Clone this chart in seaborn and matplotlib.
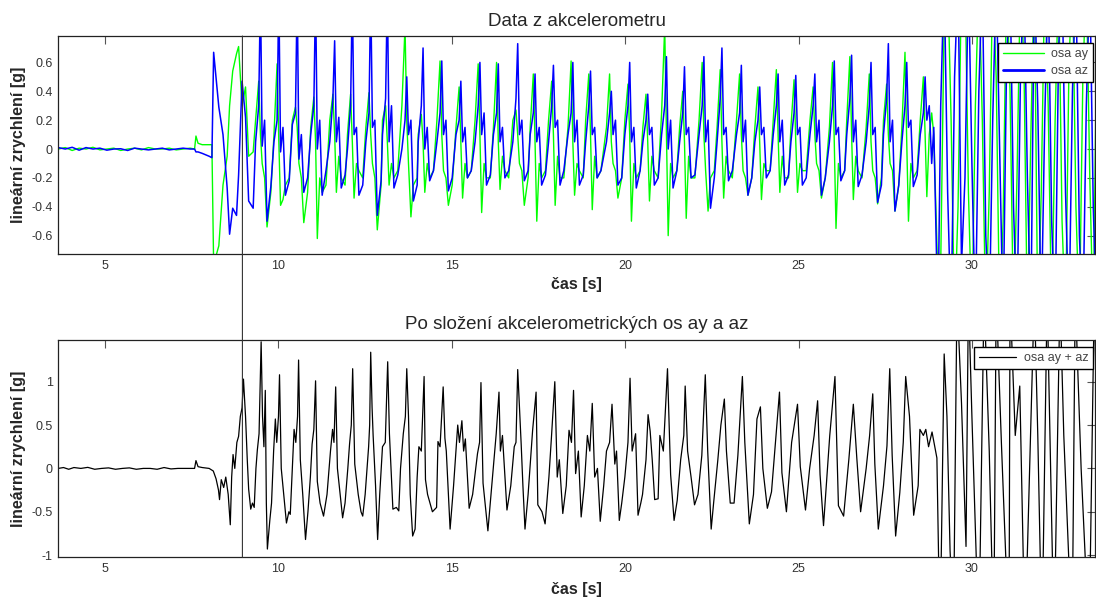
import matplotlib
matplotlib.use("Agg")
import matplotlib.pyplot as plt
import pandas as pd
import seaborn as sns
from matplotlib.patches import ConnectionPatch

# ---- data (time [s], value [g]) ----
# top panel: (time, osa ay, osa az)
accel_points = [
    # quiet start
    (3.65, 0.000, 0.010), (3.85, 0.010, 0.000), (4.05, -0.010, 0.012), (4.25, 0.006, -0.008),
    (4.45, 0.000, 0.010), (4.65, 0.012, 0.000), (4.85, -0.006, 0.006), (5.05, 0.000, -0.008),
    (5.25, 0.006, 0.000), (5.45, -0.010, 0.002), (5.65, 0.000, -0.010), (5.85, 0.006, 0.006),
    (6.05, -0.006, 0.000), (6.25, 0.010, -0.006), (6.45, 0.000, 0.000), (6.65, 0.000, 0.006),
    (6.85, 0.006, -0.006), (7.05, -0.006, 0.000), (7.25, 0.000, 0.006), (7.45, 0.006, 0.000),
    (7.58, 0.000, 0.000), (7.62, 0.090, -0.020), (7.68, 0.040, -0.020), (7.80, 0.030, -0.030),
    (8.00, 0.030, -0.050), (8.08, 0.030, -0.060),
    # start of walking
    (8.13, -0.80, 0.67), (8.28, -0.67, 0.29), (8.40, -0.25, 0.10), (8.52, -0.05, -0.27),
    (8.59, 0.30, -0.59), (8.68, 0.54, -0.41), (8.79, 0.66, -0.46), (8.85, 0.71, -0.18),
    (8.95, 0.30, 0.47), (9.05, 0.43, 0.22), (9.14, -0.05, -0.36), (9.27, -0.02, -0.41),
    # steps
    (9.34, 0.20, 0.05), (9.43, 0.47, 0.30), (9.48, 0.10, 1.10), (9.53, -0.10, 0.02), (9.60, -0.20, 0.20), (9.67, -0.54, -0.50), (9.78, -0.30, -0.26),
    (9.87, 0.10, 0.05), (9.96, 0.59, 0.20), (10.01, 0.05, 1.10), (10.06, -0.39, -0.02), (10.13, -0.35, 0.15), (10.20, -0.25, -0.32), (10.31, -0.20, -0.22),
    (10.40, 0.20, 0.17), (10.49, 0.29, 0.25), (10.54, 0.15, 1.10), (10.59, -0.10, -0.07), (10.66, -0.20, 0.10), (10.73, -0.51, -0.30), (10.84, -0.30, -0.20),
    (10.93, 0.15, 0.10), (11.02, 0.36, 0.30), (11.07, 0.05, 1.10), (11.12, -0.62, 0.00), (11.19, -0.20, 0.20), (11.26, -0.30, -0.32), (11.37, -0.25, -0.15),
    (11.48, 0.20, 0.05), (11.57, 0.38, 0.35), (11.62, 0.10, 0.75), (11.67, -0.30, 0.05), (11.74, -0.05, 0.22), (11.81, -0.20, -0.27), (11.92, -0.25, -0.18),
    (11.99, 0.10, 0.00), (12.08, 0.38, 0.30), (12.13, 0.05, 1.10), (12.18, -0.34, 0.10), (12.25, -0.10, 0.15), (12.32, -0.15, -0.32), (12.43, -0.20, -0.25),
    (12.52, 0.15, 0.05), (12.61, 0.39, 0.25), (12.66, 0.10, 1.10), (12.71, -0.10, 0.15), (12.78, -0.20, 0.20), (12.85, -0.56, -0.46), (12.96, -0.25, -0.22),
    (13.00, 0.20, 0.10), (13.09, 0.30, 0.35), (13.14, 0.05, 1.10), (13.19, -0.25, 0.05), (13.26, -0.10, 0.30), (13.33, -0.20, -0.27), (13.44, -0.15, -0.18),
    (13.56, 0.30, 0.00), (13.65, 0.85, 0.20), (13.70, 0.20, 0.50), (13.75, -0.10, 0.10), (13.82, -0.47, 0.20), (13.89, -0.25, -0.36), (14.00, -0.20, -0.25),
    (14.03, 0.10, 0.05), (14.12, 0.24, 0.30), (14.17, 0.05, 0.70), (14.22, -0.30, 0.00), (14.29, -0.10, 0.15), (14.36, -0.20, -0.22), (14.47, -0.15, -0.15),
    (14.57, 0.20, 0.05), (14.66, 0.61, 0.25), (14.71, 0.10, 0.61), (14.76, -0.15, 0.10), (14.83, -0.20, 0.20), (14.90, -0.39, -0.29), (15.01, -0.25, -0.20),
    (15.12, 0.15, 0.10), (15.21, 0.43, 0.20), (15.26, 0.05, 0.47), (15.31, -0.34, 0.05), (15.38, -0.10, 0.15), (15.45, -0.20, -0.20), (15.56, -0.15, -0.15),
    (15.67, 0.20, 0.05), (15.76, 0.59, 0.30), (15.81, 0.10, 0.60), (15.86, -0.44, 0.10), (15.93, -0.10, 0.25), (16.00, -0.20, -0.25), (16.11, -0.20, -0.18),
    (16.20, 0.15, 0.10), (16.29, 0.60, 0.25), (16.34, 0.05, 0.59), (16.39, -0.28, 0.05), (16.46, -0.05, 0.15), (16.53, -0.15, -0.20), (16.64, -0.20, -0.15),
    (16.76, 0.20, 0.05), (16.85, 0.27, 0.35), (16.90, 0.10, 0.73), (16.95, -0.10, 0.10), (17.02, -0.15, 0.20), (17.09, -0.39, -0.22), (17.20, -0.20, -0.15),
    (17.26, 0.15, 0.10), (17.35, 0.52, 0.25), (17.40, 0.05, 0.52), (17.45, -0.50, 0.05), (17.52, -0.10, 0.15), (17.59, -0.20, -0.25), (17.70, -0.15, -0.18),
    (17.79, 0.20, 0.05), (17.88, 0.47, 0.30), (17.93, 0.10, 0.58), (17.98, -0.39, 0.15), (18.05, -0.05, 0.20), (18.12, -0.20, -0.25), (18.23, -0.20, -0.15),
    (18.35, 0.15, 0.10), (18.44, 0.61, 0.25), (18.49, 0.05, 0.60), (18.54, -0.32, 0.05), (18.61, -0.10, 0.20), (18.68, -0.15, -0.25), (18.79, -0.20, -0.18),
    (18.86, 0.20, 0.05), (18.95, 0.52, 0.30), (19.00, 0.10, 0.54), (19.05, -0.42, 0.10), (19.12, -0.05, 0.15), (19.19, -0.20, -0.20), (19.30, -0.15, -0.15),
    (19.46, 0.15, 0.05), (19.55, 0.52, 0.25), (19.60, 0.05, 0.40), (19.65, -0.10, 0.10), (19.72, -0.15, 0.20), (19.79, -0.34, -0.25), (19.90, -0.20, -0.20),
    (19.99, 0.20, 0.10), (20.08, 0.45, 0.30), (20.13, 0.10, 0.60), (20.18, -0.50, 0.05), (20.25, -0.10, 0.15), (20.32, -0.20, -0.27), (20.43, -0.15, -0.15),
    (20.51, 0.15, 0.05), (20.60, 0.38, 0.20), (20.65, 0.05, 0.38), (20.70, -0.36, 0.10), (20.77, -0.05, 0.15), (20.84, -0.15, -0.25), (20.95, -0.20, -0.20),
    (21.05, 0.25, 0.10), (21.14, 0.85, 0.30), (21.19, 0.10, 0.64), (21.24, -0.60, 0.00), (21.31, -0.10, 0.20), (21.38, -0.20, -0.27), (21.49, -0.15, -0.15),
    (21.57, 0.15, 0.05), (21.66, 0.40, 0.25), (21.71, 0.05, 0.57), (21.76, -0.48, 0.10), (21.83, -0.05, 0.15), (21.90, -0.20, -0.20), (22.01, -0.20, -0.18),
    (22.13, 0.20, 0.10), (22.22, 0.60, 0.30), (22.27, 0.10, 0.64), (22.32, -0.15, 0.05), (22.39, -0.43, 0.20), (22.46, -0.20, -0.41), (22.57, -0.15, -0.20),
    (22.65, 0.15, 0.05), (22.74, 0.55, 0.35), (22.79, 0.05, 0.70), (22.84, -0.34, 0.10), (22.91, -0.05, 0.15), (22.98, -0.15, -0.22), (23.09, -0.20, -0.15),
    (23.21, 0.20, 0.10), (23.30, 0.52, 0.25), (23.35, 0.10, 0.58), (23.40, -0.15, 0.05), (23.47, -0.20, 0.20), (23.54, -0.32, -0.32), (23.65, -0.20, -0.20),
    (23.74, 0.15, 0.05), (23.83, 0.43, 0.20), (23.88, 0.05, 0.43), (23.93, -0.35, 0.10), (24.00, -0.10, 0.15), (24.07, -0.15, -0.20), (24.18, -0.15, -0.15),
    (24.27, 0.20, 0.10), (24.36, 0.55, 0.30), (24.41, 0.10, 0.52), (24.46, -0.30, 0.05), (24.53, -0.05, 0.20), (24.60, -0.20, -0.25), (24.71, -0.20, -0.18),
    (24.78, 0.15, 0.05), (24.87, 0.48, 0.25), (24.92, 0.05, 0.51), (24.97, -0.30, 0.10), (25.04, -0.10, 0.15), (25.11, -0.15, -0.25), (25.22, -0.15, -0.20),
    (25.33, 0.20, 0.10), (25.42, 0.43, 0.30), (25.47, 0.10, 0.52), (25.52, -0.10, 0.05), (25.59, -0.15, 0.20), (25.66, -0.34, -0.32), (25.77, -0.20, -0.20),
    (25.89, 0.15, 0.05), (25.98, 0.60, 0.30), (26.03, 0.05, 0.61), (26.08, -0.55, 0.10), (26.15, -0.10, 0.15), (26.22, -0.20, -0.22), (26.33, -0.15, -0.15),
    (26.39, 0.20, 0.10), (26.48, 0.64, 0.35), (26.53, 0.10, 0.65), (26.58, -0.35, 0.05), (26.65, -0.05, 0.20), (26.72, -0.15, -0.26), (26.83, -0.20, -0.18),
    (26.95, 0.15, 0.05), (27.04, 0.52, 0.30), (27.09, 0.05, 0.60), (27.14, -0.15, 0.10), (27.21, -0.20, 0.15), (27.28, -0.38, -0.37), (27.39, -0.20, -0.25),
    (27.45, 0.20, 0.10), (27.54, 0.45, 0.35), (27.59, 0.10, 0.73), (27.64, -0.10, 0.05), (27.71, -0.15, 0.20), (27.78, -0.43, -0.43), (27.89, -0.25, -0.25),
    (27.98, 0.15, 0.05), (28.07, 0.67, 0.30), (28.12, 0.05, 0.60), (28.17, -0.50, 0.15), (28.24, -0.10, 0.20), (28.31, -0.20, -0.26), (28.42, -0.15, -0.18),
    (28.51, 0.20, 0.10), (28.60, 0.50, 0.25), (28.65, 0.10, 0.50), (28.70, -0.33, 0.20), (28.77, 0.10, 0.30), (28.84, 0.25, -0.10), (28.90, 0.10, 0.15),
    # large swings at the end (clipped by the axis)
    (29.02, -0.9, -1.2), (29.10, -0.8, 0.3), (29.20, 0.9, 1.2), (29.30, 1.2, -0.3), (29.40, 0.2, -1.2),
    (29.50, -1.2, 0.5), (29.60, -0.4, 1.2), (29.70, 1.2, -0.8), (29.80, 1.2, -0.2), (29.90, -0.3, 1.2),
    (30.00, -1.2, -0.1), (30.10, 0.3, -1.2), (30.20, 1.2, 0.4), (30.30, 0.2, 1.2), (30.40, -1.2, -0.6),
    (30.50, -0.3, -1.2), (30.60, 1.2, 0.2), (30.70, 0.5, 1.2), (30.80, -1.2, 0.0), (30.90, -0.5, -1.2),
    (31.00, 1.2, 0.6), (31.10, 0.4, 1.2), (31.20, -1.2, -0.4), (31.30, -0.2, -1.2), (31.40, 1.2, 0.5),
    (31.50, 0.6, 1.2), (31.60, -1.2, -0.2), (31.70, 0.1, -1.2), (31.80, 1.2, 1.2), (31.90, -1.2, 0.3),
    (32.00, -0.3, -1.2), (32.10, 1.2, 0.2), (32.20, 0.3, 1.2), (32.30, -1.2, -0.5), (32.40, 0.2, -1.2),
    (32.50, 1.2, 0.7), (32.60, -0.5, 1.2), (32.70, -1.2, -0.3), (32.80, 0.6, -1.2), (32.90, 1.2, 0.4),
    (33.00, -0.4, 1.2), (33.10, -1.2, -0.6), (33.20, 0.5, -1.2), (33.30, 1.2, 0.3), (33.40, -0.2, 1.2),
    (33.50, -1.2, -0.4), (33.60, 0.8, -1.2),
]

# bottom panel: (time, osa ay + az)
sum_points = [
    (3.65, 0.00), (3.80, 0.01), (3.95, -0.01), (4.10, 0.01), (4.30, 0.00), (4.50, 0.012),
    (4.70, -0.01), (4.90, 0.00), (5.10, 0.006), (5.30, -0.01), (5.50, 0.00), (5.70, 0.006),
    (5.90, -0.01), (6.10, 0.00), (6.30, 0.00), (6.50, -0.01), (6.70, 0.01), (6.90, -0.006),
    (7.10, 0.00), (7.30, 0.00), (7.50, 0.00), (7.58, 0.00), (7.62, 0.09), (7.68, 0.02),
    (7.80, 0.01), (8.00, 0.00), (8.12, -0.03), (8.20, -0.12), (8.27, -0.25), (8.30, -0.36),
    (8.35, -0.13), (8.42, -0.22), (8.48, -0.10), (8.55, -0.30), (8.61, -0.65), (8.65, -0.10),
    (8.69, 0.16), (8.74, 0.00), (8.80, 0.30), (8.85, 0.37), (8.90, 0.60), (8.95, 0.70),
    (8.99, 1.03), (9.05, 0.60), (9.10, 0.10), (9.14, -0.24), (9.20, -0.47), (9.25, -0.40),
    (9.30, -0.45), (9.35, 0.00), (9.39, 0.21), (9.44, 0.40), (9.50, 1.46), (9.54, 0.60),
    (9.58, 0.25), (9.62, 0.90), (9.65, -0.40), (9.68, -0.93), (9.75, -0.60), (9.80, -0.40),
    (9.86, 0.20), (9.91, 0.57), (9.95, 0.30), (10.00, 0.60), (10.03, 1.08), (10.08, 0.00),
    (10.15, -0.30), (10.23, -0.63), (10.30, -0.50), (10.34, -0.53), (10.40, 0.00), (10.45, 0.45),
    (10.50, 0.30), (10.55, 0.60), (10.58, 1.25), (10.63, 0.10), (10.70, -0.30), (10.78, -0.82),
    (10.85, -0.50), (10.92, -0.10), (10.97, 0.28), (11.02, 0.45), (11.07, 1.01), (11.12, -0.15),
    (11.20, -0.40), (11.30, -0.55), (11.40, -0.30), (11.50, 0.20), (11.56, 0.45), (11.60, 0.30),
    (11.65, 0.94), (11.70, 0.00), (11.78, -0.30), (11.85, -0.57), (11.92, -0.40), (12.00, 0.00),
    (12.05, 0.28), (12.10, 0.50), (12.14, 1.15), (12.20, 0.05), (12.30, -0.30), (12.38, -0.50),
    (12.43, -0.55), (12.50, -0.30), (12.60, 0.25), (12.63, 0.50), (12.66, 1.34), (12.70, 0.70),
    (12.73, 0.38), (12.80, -0.20), (12.86, -0.82), (12.92, -0.30), (13.00, 0.25), (13.08, 0.30),
    (13.15, 1.23), (13.20, 0.40), (13.30, -0.47), (13.40, -0.45), (13.47, -0.49), (13.52, 0.00),
    (13.60, 0.40), (13.66, 0.60), (13.70, 1.15), (13.75, 0.60), (13.80, -0.30), (13.87, -0.78),
    (13.94, -0.70), (14.00, -0.10), (14.05, 0.25), (14.12, 0.20), (14.20, 1.06), (14.24, -0.13),
    (14.30, -0.30), (14.44, -0.50), (14.56, -0.45), (14.60, 0.31), (14.66, 0.25), (14.75, 0.94),
    (14.80, 0.35), (14.84, 0.20), (14.95, -0.70), (15.05, -0.20), (15.12, 0.20), (15.17, 0.50),
    (15.22, 0.30), (15.29, 0.55), (15.34, 0.20), (15.39, 0.34), (15.50, -0.46), (15.60, -0.30),
    (15.74, 0.17), (15.80, 0.30), (15.84, 0.99), (15.90, -0.17), (16.04, -0.72), (16.15, -0.20),
    (16.28, 0.40), (16.36, 0.88), (16.40, 0.20), (16.46, 0.38), (16.59, -0.48), (16.70, -0.20),
    (16.80, 0.25), (16.85, 0.30), (16.90, 1.14), (17.00, 0.28), (17.05, -0.20), (17.11, -0.70),
    (17.20, -0.30), (17.33, 0.44), (17.43, 0.88), (17.48, -0.42), (17.60, -0.50), (17.69, -0.64),
    (17.80, -0.10), (17.87, 0.34), (17.97, 1.00), (18.04, -0.10), (18.10, 0.10), (18.20, -0.52),
    (18.30, -0.20), (18.38, 0.44), (18.45, 0.30), (18.51, 0.90), (18.57, -0.06), (18.65, 0.20),
    (18.73, -0.56), (18.82, -0.20), (18.91, 0.38), (18.98, 0.20), (19.05, 0.75), (19.12, -0.10),
    (19.20, 0.00), (19.28, -0.61), (19.38, -0.20), (19.46, 0.20), (19.55, 0.30), (19.62, 0.74),
    (19.70, 0.05), (19.75, 0.20), (19.83, -0.60), (19.90, -0.40), (19.99, -0.10), (20.08, 0.30),
    (20.14, 1.04), (20.20, 0.20), (20.30, 0.40), (20.37, -0.54), (20.45, -0.40), (20.50, -0.30),
    (20.60, 0.10), (20.66, 0.62), (20.72, 0.43), (20.78, 0.10), (20.85, -0.36), (20.95, -0.35),
    (21.00, 0.38), (21.10, 0.20), (21.22, 1.15), (21.31, -0.07), (21.41, -0.60), (21.50, -0.37),
    (21.60, 0.10), (21.69, 0.38), (21.73, 0.95), (21.80, 0.20), (21.90, -0.10), (22.00, -0.42),
    (22.10, -0.30), (22.21, 0.15), (22.31, 1.08), (22.38, 0.20), (22.48, -0.70), (22.55, -0.40),
    (22.67, 0.09), (22.76, 0.50), (22.86, 0.80), (22.92, 0.20), (23.03, -0.40), (23.14, -0.40),
    (23.25, 0.15), (23.38, 1.06), (23.45, 0.30), (23.58, -0.64), (23.70, -0.30), (23.80, 0.57),
    (23.90, 0.71), (23.97, 0.00), (24.10, -0.46), (24.22, -0.27), (24.35, 0.38), (24.45, 0.88),
    (24.52, -0.05), (24.65, -0.50), (24.80, 0.30), (24.97, 0.74), (25.05, 0.02), (25.20, -0.48),
    (25.32, 0.00), (25.45, 0.38), (25.55, 0.78), (25.62, -0.07), (25.72, -0.66), (25.85, 0.10),
    (25.90, 0.38), (26.05, 1.06), (26.15, -0.43), (26.30, -0.55), (26.45, 0.10), (26.58, 0.74),
    (26.68, 0.12), (26.79, -0.50), (26.95, 0.00), (27.05, 0.38), (27.14, 0.86), (27.20, 0.05),
    (27.30, -0.70), (27.45, -0.20), (27.55, 0.26), (27.63, 1.15), (27.70, 0.15), (27.80, -0.78),
    (27.92, -0.28), (28.02, 0.30), (28.09, 1.06), (28.20, 0.60), (28.32, -0.54), (28.45, -0.20),
    (28.50, 0.45), (28.60, 0.38), (28.67, 0.45), (28.75, 0.25), (28.85, 0.42), (28.99, 0.12),
    (29.08, -2.00), (29.20, 1.32), (29.28, 0.60), (29.37, -0.95), (29.47, -1.80), (29.57, 2.00),
    (29.70, 0.75), (29.83, -0.90), (29.90, 2.00), (30.00, 0.60), (30.20, -2.00), (30.35, 2.00),
    (30.50, 0.20), (30.63, -2.00), (30.70, 2.00), (30.85, 0.30), (31.07, -2.00), (31.10, 2.00),
    (31.25, 0.38), (31.38, 0.95), (31.53, -2.00), (31.80, 2.00), (31.90, 0.38), (32.02, -2.00),
    (32.17, 2.00), (32.37, -2.00), (32.54, 2.00), (32.65, 0.38), (32.89, -2.00), (32.98, 2.00),
    (33.15, 0.00), (33.38, -2.00), (33.53, 2.00), (33.60, 0.50),
]

cursor_t = 8.96  # vertical marker line through both panels

top_yticks = [-0.6, -0.4, -0.2, 0, 0.2, 0.4, 0.6]
top_ylabels = ["-0.6", "-0.4", "-0.2", "0", "0.2", "0.4", "0.6"]
bot_yticks = [-1, -0.5, 0, 0.5, 1]
bot_ylabels = ["-1", "-0.5", "0", "0.5", "1"]
x_ticks = [5, 10, 15, 20, 25, 30]

accel = pd.DataFrame(accel_points, columns=["t", "ay", "az"])
summed = pd.DataFrame(sum_points, columns=["t", "ay_az"])

sns.set_style("white")
plt.rcParams["font.family"] = ["Liberation Sans", "DejaVu Sans"]

fig = plt.figure(figsize=(10.96, 5.98), dpi=100)
ax1 = fig.add_axes([0.0532, 0.5753, 0.9462, 0.3645])
ax2 = fig.add_axes([0.0532, 0.0681, 0.9462, 0.3629])

sns.lineplot(data=accel, x="t", y="ay", ax=ax1, color="#00ff00", lw=1.0,
             label="osa ay", estimator=None, sort=False)
sns.lineplot(data=accel, x="t", y="az", ax=ax1, color="#0000ff", lw=1.1,
             label="osa az", estimator=None, sort=False)
sns.lineplot(data=summed, x="t", y="ay_az", ax=ax2, color="black", lw=0.9,
             label="osa ay + az", estimator=None, sort=False)


def matlab_look(ax, ylim, yticks, ylabels, title, title_pad):
    ax.set_xlim(3.65, 33.56)
    ax.set_ylim(*ylim)
    ax.set_xticks(x_ticks)
    ax.set_xticklabels([str(v) for v in x_ticks])
    ax.set_yticks(yticks)
    ax.set_yticklabels(ylabels)
    ax.tick_params(direction="in", length=6, width=0.8, top=True, right=True,
                   labelsize=9, labelcolor="#333333", color="#555555", pad=4)
    for s in ax.spines.values():
        s.set_color("#222222")
        s.set_linewidth(0.9)
    ax.set_title(title, fontsize=13.5, pad=title_pad)
    ax.set_xlabel("čas [s]", fontsize=11.5, fontweight="bold")
    ax.set_ylabel("lineární zrychlení [g]", fontsize=11.5, fontweight="bold")
    ax.yaxis.set_label_coords(-0.031, 0.5)


matlab_look(ax1, (-0.727, 0.783), top_yticks, top_ylabels, "Data z akcelerometru", 7)
matlab_look(ax2, (-1.025, 1.478), bot_yticks, bot_ylabels,
            "Po složení akcelerometrických os ay a az", 8)
ax1.xaxis.set_label_coords(0.5, -0.105)
ax2.xaxis.set_label_coords(0.5, -0.112)

for ax, hl in ((ax1, 3.3), (ax2, 3.0)):
    leg = ax.legend(loc="upper right", bbox_to_anchor=(0.998, 0.968), borderaxespad=0,
                    fontsize=9, frameon=True, fancybox=False, framealpha=1,
                    edgecolor="black", handlelength=hl, labelspacing=0.4,
                    borderpad=0.4, handletextpad=0.6)
    leg.get_frame().set_linewidth(1.0)
    for txt in leg.get_texts():
        txt.set_color("#444444")
    if ax is ax1:
        leg.get_lines()[1].set_linewidth(2.0)

# marker line spanning from the top panel down through the bottom panel
cursor = ConnectionPatch(xyA=(cursor_t, ax1.get_ylim()[1]), coordsA=ax1.transData,
                         xyB=(cursor_t, ax2.get_ylim()[0]), coordsB=ax2.transData,
                         color="#333333", lw=0.8)
fig.add_artist(cursor)

fig.savefig("out.png", dpi=100)
